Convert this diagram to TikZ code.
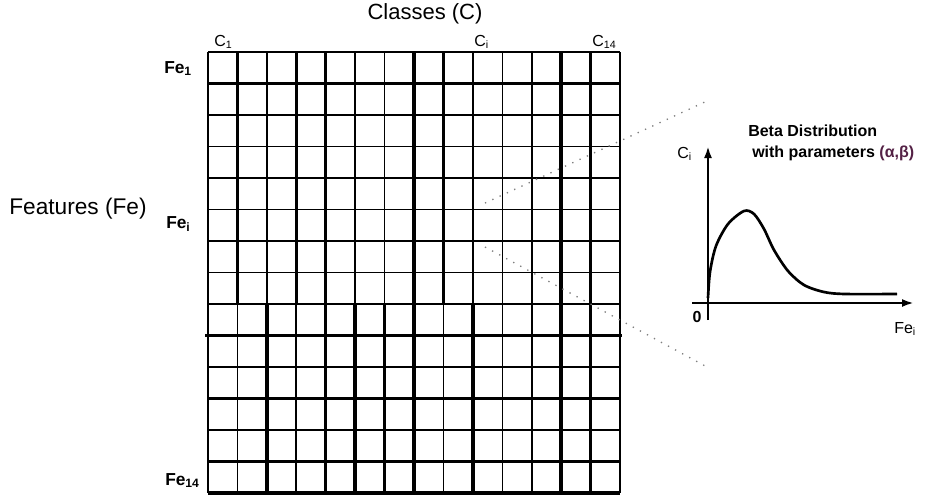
\documentclass[tikz,border=0pt]{standalone}
\usepackage{fontspec}
\setmainfont{Liberation Sans}
\usepackage{xcolor}
\usepackage{tikz}
\usetikzlibrary{arrows.meta}
\definecolor{paramcol}{rgb}{0.33,0.13,0.27}

\begin{document}
\begin{tikzpicture}[x=0.75pt, y=-0.75pt, every node/.style={inner sep=0pt},
    thinln/.style={line width=1.2pt}, midln/.style={line width=1.8pt},
    thickln/.style={line width=2.6pt}, zoomln/.style={gray, line width=1pt, dash pattern=on 1pt off 5pt},
    lbl/.style={font=\fontsize{12}{14}\selectfont}, felbl/.style={font=\fontsize{13}{15}\selectfont\bfseries}]
  \useasboundingbox (0,0) rectangle (926,497);
  % upper block of the grid
  \foreach \i in {0,...,14} \draw[thinln] ({208+\i*29.43},52) -- ({208+\i*29.43},304);
  \foreach \i in {1,3,4,7,8,12,13} \draw[thickln] ({208+\i*29.43},52) -- ({208+\i*29.43},304);
  \foreach \j in {0,2,3,...,8} \draw[thinln] (208,{52+\j*31.5}) -- (620,{52+\j*31.5});
  \draw[midln] (208,83.5) -- (620,83.5);
  % lower block of the grid
  \foreach \i in {0,...,14} \draw[thinln] ({208+\i*29.43},304) -- ({208+\i*29.43},493);
  \foreach \i in {2,4,5,6,7,9,12,13} \draw[thickln] ({208+\i*29.43},304) -- ({208+\i*29.43},493);
  \foreach \j in {10,...,13} \draw[midln] (208,{52+\j*31.5}) -- (620,{52+\j*31.5});
  \draw[thickln] (205,335.5) -- (622,335.5);
  \draw[thickln] (208,493) -- (620,493);

  \node[font=\fontsize{16.5}{18}\selectfont] (classes) at (425,14) {Classes (C)};
  \node[font=\fontsize{17}{19}\selectfont] (features) at (78,209) {Features (Fe)};
  \node[lbl,anchor=base west] (c1) at (214,46) {C\textsubscript{1}};
  \node[lbl,anchor=base west] (ci) at (474,46) {C\textsubscript{i}};
  \node[lbl,anchor=base west] (c14) at (592,46) {C\textsubscript{14}};
  \node[felbl,anchor=base west] (fe1) at (164,73) {Fe\textsubscript{1}};
  \node[felbl,anchor=base west] (fei) at (166,228) {Fe\textsubscript{i}};
  \node[felbl,anchor=base west] (fe14) at (165,485) {Fe\textsubscript{14}};

  % zoom from the grid to the plot
  \coordinate (za) at (485,203);
  \coordinate (zb) at (485,247);
  \coordinate (zc) at (707,101);
  \coordinate (zd) at (707,367);
  \draw[zoomln] (za) -- (zc);
  \draw[zoomln] (zb) -- (zd);

  % beta distribution plot
  \coordinate (o) at (708,303);
  \coordinate (ytip) at (708,146);
  \coordinate (xtip) at (914,303);
  \draw[line width=1.8pt,-{Latex[length=9pt,width=6pt]}] (708,320) -- (ytip);
  \draw[line width=1.8pt,-{Latex[length=9pt,width=6pt]}] (692,303) -- (xtip);
  \draw[line width=2pt] plot[smooth] coordinates {(708,298) (710,272) (716,246) (728,224) (744,211) (754,214) (764,229) (774,250) (788,271) (804,285) (824,292) (845,294) (897,294)};
  \node[font=\fontsize{12}{14}\selectfont\bfseries] (zero) at (697,317) {0};
  \node[lbl,anchor=base west] (yl) at (677,158) {C\textsubscript{i}};
  \node[lbl,anchor=base west] (xl) at (894,333) {Fe\textsubscript{i}};
  \node[font=\fontsize{12}{14}\selectfont\bfseries,anchor=west] (beta) at (748,131) {Beta Distribution};
  \node[font=\fontsize{12}{14}\selectfont\bfseries,anchor=west] (params) at (752,153) {with parameters \textcolor{paramcol}{(α,β)}};
\end{tikzpicture}
\end{document}
